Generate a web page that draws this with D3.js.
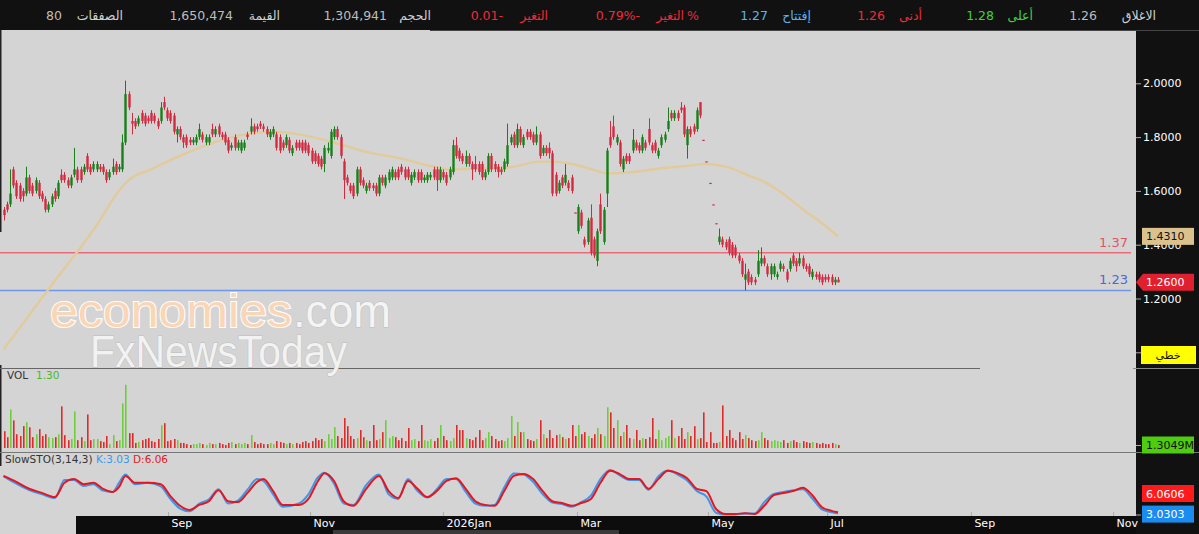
<!DOCTYPE html>
<html>
<head>
<meta charset="utf-8">
<script src="https://cdn.jsdelivr.net/npm/d3@7"></script>
<style>
  body { margin: 0; background: #111; }
  svg { display: block; }
  .axis text { fill: #fff; font-family: "DejaVu Sans", sans-serif; font-size: 11px; }
  .axis line { stroke: #aaa; }
  .axis .domain { display: none; }
</style>
</head>
<body>
<svg id="chart" width="1199" height="534"></svg>
<script>
const opens = [
  1.53,1.55,1.55,1.68,1.63,1.62,1.60,1.59,1.65,1.62, 1.60,1.63,1.59,1.57,1.53,1.55,1.60,1.58,1.66,1.66,
  1.64,1.62,1.66,1.68,1.68,1.67,1.73,1.69,1.68,1.68, 1.69,1.69,1.67,1.65,1.67,1.70,1.68,1.68,1.78,1.96,
  1.86,1.86,1.85,1.89,1.88,1.87,1.89,1.88,1.86,1.86, 1.93,1.90,1.89,1.88,1.81,1.83,1.80,1.80,1.79,1.78,
  1.78,1.80,1.81,1.78,1.78,1.83,1.81,1.84,1.81,1.81, 1.79,1.76,1.80,1.76,1.75,1.76,1.81,1.82,1.84,1.84,
  1.85,1.84,1.83,1.80,1.81,1.81,1.80,1.78,1.77,1.79, 1.74,1.78,1.78,1.78,1.78,1.77,1.75,1.74,1.73,1.72,
  1.70,1.75,1.73,1.80,1.83,1.80,1.71,1.65,1.62,1.62, 1.59,1.68,1.64,1.60,1.63,1.62,1.62,1.59,1.65,1.62,
  1.64,1.65,1.67,1.68,1.69,1.68,1.68,1.63,1.65,1.67, 1.67,1.64,1.64,1.65,1.68,1.68,1.64,1.67,1.66,1.65,
  1.67,1.77,1.75,1.73,1.70,1.73,1.70,1.70,1.70,1.70, 1.65,1.67,1.73,1.70,1.69,1.68,1.68,1.70,1.78,1.81,
  1.77,1.83,1.77,1.82,1.82,1.81,1.78,1.81,1.74,1.76, 1.76,1.74,1.66,1.60,1.65,1.63,1.63,1.65,1.52,1.45,
  1.52,1.42,1.41,1.50,1.42,1.34,1.55,1.41,1.59,1.80, 1.84,1.78,1.78,1.68,1.73,1.73,1.75,1.78,1.77,1.75,
  1.78,1.83,1.77,1.78,1.73,1.77,1.79,1.83,1.89,1.87, 1.89,1.91,1.91,1.77,1.83,1.84,1.83,1.93,1.79,1.71,
  1.63,1.55,1.48,1.41,1.42,1.41,1.42,1.40,1.39,1.36, 1.34,1.27,1.30,1.28,1.27,1.29,1.33,1.35,1.32,1.29,
  1.29,1.28,1.31,1.32,1.30,1.31,1.36,1.34,1.33,1.35, 1.32,1.32,1.28,1.29,1.29,1.28,1.28,1.28,1.28,1.26,1.27
];
const highs = [
  1.54,1.56,1.68,1.69,1.64,1.63,1.61,1.69,1.66,1.63, 1.65,1.64,1.60,1.58,1.56,1.59,1.61,1.64,1.68,1.67,
  1.65,1.66,1.76,1.69,1.69,1.70,1.74,1.70,1.71,1.71, 1.70,1.70,1.68,1.68,1.72,1.71,1.70,1.81,2.01,1.97,
  1.89,1.87,1.88,1.90,1.89,1.88,1.90,1.89,1.87,1.93, 1.95,1.91,1.90,1.89,1.84,1.84,1.81,1.81,1.80,1.80,
  1.81,1.85,1.82,1.81,1.81,1.85,1.84,1.85,1.82,1.82, 1.80,1.78,1.81,1.79,1.79,1.79,1.82,1.87,1.85,1.85,
  1.86,1.85,1.84,1.83,1.84,1.82,1.81,1.79,1.81,1.80, 1.77,1.79,1.79,1.79,1.79,1.78,1.76,1.75,1.74,1.73,
  1.77,1.78,1.83,1.84,1.84,1.81,1.72,1.66,1.63,1.63, 1.69,1.69,1.65,1.63,1.64,1.63,1.63,1.66,1.66,1.66,
  1.68,1.69,1.68,1.69,1.70,1.69,1.69,1.67,1.68,1.68, 1.68,1.66,1.67,1.67,1.69,1.69,1.69,1.68,1.67,1.69,
  1.79,1.80,1.76,1.74,1.75,1.74,1.71,1.73,1.71,1.71, 1.68,1.74,1.74,1.71,1.70,1.69,1.72,1.85,1.81,1.82,
  1.85,1.84,1.81,1.83,1.83,1.82,1.84,1.82,1.77,1.77, 1.78,1.75,1.67,1.64,1.66,1.70,1.64,1.66,1.52,1.55,
  1.53,1.43,1.50,1.55,1.43,1.46,1.59,1.54,1.76,1.86, 1.88,1.81,1.79,1.73,1.74,1.74,1.83,1.79,1.78,1.81,
  1.79,1.87,1.78,1.79,1.76,1.81,1.82,1.91,1.90,1.90, 1.90,1.93,1.92,1.84,1.84,1.85,1.91,1.93,1.79,1.71,
  1.63,1.55,1.48,1.46,1.43,1.42,1.43,1.41,1.40,1.37, 1.35,1.33,1.31,1.29,1.28,1.38,1.39,1.36,1.33,1.33,
  1.33,1.30,1.34,1.33,1.31,1.35,1.37,1.35,1.37,1.36, 1.33,1.33,1.31,1.30,1.30,1.29,1.29,1.29,1.29,1.28,1.28
];
const lows = [
  1.49,1.52,1.54,1.61,1.57,1.56,1.56,1.58,1.59,1.58, 1.59,1.57,1.56,1.52,1.52,1.54,1.56,1.57,1.63,1.63,
  1.61,1.61,1.65,1.63,1.63,1.66,1.67,1.66,1.67,1.67, 1.67,1.66,1.63,1.64,1.66,1.66,1.67,1.67,1.77,1.90,
  1.81,1.83,1.84,1.85,1.84,1.85,1.85,1.85,1.83,1.85, 1.90,1.86,1.85,1.81,1.78,1.79,1.76,1.76,1.77,1.77,
  1.77,1.79,1.78,1.77,1.77,1.80,1.80,1.80,1.79,1.77, 1.74,1.75,1.75,1.75,1.74,1.75,1.79,1.81,1.81,1.82,
  1.83,1.82,1.80,1.79,1.80,1.75,1.74,1.75,1.76,1.74, 1.73,1.75,1.75,1.74,1.74,1.73,1.70,1.70,1.69,1.68,
  1.67,1.74,1.72,1.79,1.79,1.72,1.57,1.62,1.59,1.57, 1.58,1.62,1.61,1.59,1.60,1.60,1.58,1.58,1.62,1.61,
  1.63,1.64,1.64,1.64,1.66,1.64,1.64,1.62,1.64,1.63, 1.63,1.63,1.63,1.64,1.64,1.60,1.63,1.64,1.62,1.64,
  1.66,1.72,1.71,1.70,1.69,1.69,1.64,1.67,1.66,1.64, 1.64,1.66,1.67,1.67,1.65,1.66,1.67,1.69,1.77,1.76,
  1.76,1.77,1.76,1.79,1.79,1.77,1.77,1.72,1.73,1.73, 1.72,1.58,1.58,1.59,1.61,1.62,1.60,1.59,1.52,1.44,
  1.46,1.39,1.40,1.36,1.35,1.32,1.44,1.40,1.54,1.76, 1.79,1.77,1.69,1.67,1.70,1.70,1.74,1.75,1.74,1.74,
  1.75,1.77,1.74,1.74,1.72,1.76,1.78,1.82,1.86,1.86, 1.86,1.89,1.80,1.72,1.80,1.81,1.82,1.87,1.79,1.71,
  1.63,1.55,1.48,1.40,1.39,1.38,1.36,1.35,1.35,1.33, 1.28,1.23,1.25,1.25,1.25,1.28,1.32,1.32,1.28,1.27,
  1.28,1.27,1.30,1.30,1.26,1.30,1.32,1.30,1.32,1.31, 1.30,1.28,1.27,1.27,1.26,1.25,1.26,1.26,1.25,1.25,1.26
];
const closes = [
  1.51,1.53,1.59,1.62,1.58,1.57,1.58,1.65,1.60,1.59, 1.64,1.58,1.57,1.53,1.55,1.58,1.57,1.63,1.64,1.64,
  1.62,1.65,1.68,1.64,1.64,1.69,1.68,1.67,1.70,1.70, 1.68,1.67,1.64,1.67,1.69,1.67,1.69,1.78,1.96,1.91,
  1.85,1.84,1.87,1.86,1.85,1.86,1.86,1.86,1.84,1.91, 1.91,1.87,1.86,1.82,1.83,1.80,1.78,1.77,1.78,1.79,
  1.80,1.83,1.79,1.80,1.80,1.81,1.83,1.81,1.80,1.78, 1.75,1.77,1.76,1.78,1.78,1.78,1.80,1.84,1.82,1.83,
  1.84,1.83,1.81,1.82,1.83,1.76,1.75,1.76,1.80,1.75, 1.76,1.76,1.76,1.75,1.75,1.74,1.71,1.71,1.70,1.69,
  1.76,1.76,1.82,1.83,1.80,1.73,1.64,1.63,1.60,1.58, 1.68,1.63,1.62,1.62,1.61,1.61,1.59,1.65,1.63,1.65,
  1.67,1.68,1.65,1.65,1.67,1.65,1.65,1.66,1.67,1.64, 1.64,1.65,1.66,1.66,1.65,1.64,1.68,1.65,1.63,1.68,
  1.77,1.73,1.72,1.71,1.73,1.70,1.68,1.68,1.67,1.65, 1.67,1.73,1.68,1.68,1.67,1.67,1.71,1.77,1.80,1.77,
  1.83,1.78,1.80,1.80,1.80,1.78,1.81,1.73,1.76,1.74, 1.74,1.59,1.59,1.63,1.62,1.66,1.61,1.60,1.52,1.54,
  1.47,1.40,1.49,1.37,1.36,1.45,1.45,1.53,1.75,1.77, 1.80,1.80,1.70,1.72,1.71,1.71,1.79,1.76,1.75,1.80,
  1.76,1.78,1.75,1.75,1.75,1.80,1.81,1.86,1.87,1.89, 1.87,1.90,1.81,1.83,1.81,1.82,1.90,1.88,1.79,1.71,
  1.63,1.55,1.48,1.43,1.40,1.39,1.37,1.36,1.36,1.34, 1.29,1.29,1.26,1.26,1.26,1.34,1.35,1.33,1.29,1.32,
  1.32,1.29,1.33,1.31,1.27,1.34,1.33,1.32,1.35,1.32, 1.31,1.29,1.30,1.28,1.27,1.26,1.27,1.27,1.26,1.27,1.26
];
// volume in millions of shares
const volumes = [
  7.3,4.7,16.8,12.0,6.0,5.2,9.5,11.2,9.0,4.7, 6.0,8.2,5.2,6.0,4.7,4.3,4.7,6.0,18.1,5.6,
  3.4,3.9,15.9,3.4,4.7,3.0,14.6,3.4,3.9,3.9, 3.0,2.6,5.2,1.7,5.6,3.0,3.4,19.4,27.5,6.5,
  6.5,2.2,2.6,3.4,3.9,4.3,3.0,2.6,3.9,9.9, 10.8,3.0,3.4,3.9,3.4,2.2,2.2,1.7,1.3,1.7,
  1.7,2.2,1.7,1.3,2.2,1.7,1.7,2.2,1.7,1.3, 2.2,2.6,1.7,2.2,1.7,2.2,1.7,5.6,2.6,1.7,
  2.2,1.7,1.7,2.2,1.7,3.0,2.6,2.2,1.7,2.2, 1.7,2.2,1.7,2.6,3.0,2.2,3.0,4.3,3.4,3.9,
  3.0,6.0,3.9,9.1,5.2,4.3,13.0,9.5,5.2,3.9, 4.3,7.8,4.7,3.4,3.0,10.0,3.4,3.9,6.9,12.1,
  4.3,5.2,4.7,3.4,4.3,3.0,8.7,3.4,3.9,3.0, 10.0,3.4,3.0,3.9,3.0,4.3,10.0,5.2,3.4,3.0,
  4.3,10.0,7.8,7.8,4.3,3.9,3.4,4.7,7.8,3.4, 4.3,6.9,5.2,3.9,3.0,3.4,3.0,4.3,13.9,5.2,
  11.3,6.9,6.9,3.9,3.4,3.0,3.9,12.1,6.0,4.3, 7.8,4.3,5.6,6.0,4.7,3.9,4.3,10.0,5.2,10.0,
  6.0,6.9,5.2,4.3,6.0,8.7,6.0,5.2,17.7,15.5, 8.7,12.1,5.2,6.9,10.0,4.3,3.9,7.8,3.4,4.3,
  3.9,4.7,13.0,3.9,7.8,3.4,4.3,5.2,12.1,4.3, 5.2,8.7,3.9,6.9,5.2,9.5,3.9,4.3,15.5,2.6,
  6.9,2.2,2.2,2.6,18.5,5.2,7.8,4.3,3.4,6.9, 3.9,5.6,4.3,3.4,3.0,3.4,6.9,4.3,3.4,3.0,
  3.4,3.0,2.6,3.4,2.2,3.0,3.4,2.6,2.2,3.0, 2.6,2.2,2.6,2.2,1.7,2.2,1.7,1.7,2.2,1.7,1.3049
];

// moving average read at bar positions
const maIdx = [0,15,30,35,39,46,53,61,68,78,85,92,103,113,124,134,139,149,158,167,171,177,184,188,196,205,213,219,225,233,236,242,250,255,260];
const maVal = [1.01,1.25,1.49,1.585,1.64,1.68,1.72,1.76,1.79,1.815,1.82,1.81,1.78,1.745,1.72,1.69,1.68,1.684,1.688,1.709,1.709,1.70,1.678,1.665,1.67,1.684,1.693,1.70,1.69,1.653,1.64,1.597,1.523,1.48,1.431];

// slow stochastic (3,14,3) read at bar positions
const stoIdx = [0,4,8,12,16,19,22,25,28,31,34,36,38,41,45,49,52,55,58,61,64,67,70,73,76,79,81,84,87,92,95,98,100,103,106,109,113,117,120,123,126,129,132,135,138,141,144,147,150,153,156,159,162,165,168,171,174,177,180,183,186,189,192,195,198,201,204,207,210,213,216,219,222,225,228,231,234,237,240,243,246,249,252,255,258,260];
const stoD = [85,72,57,48,39,70,78,67,70,57,50,61,85,70,70,67,41,20,11,22,30,54,30,28,48,72,78,52,22,22,35,74,91,74,30,20,57,85,52,37,74,57,39,52,74,80,57,30,22,20,52,85,89,78,52,30,26,20,26,35,70,96,89,78,78,57,78,96,91,80,57,52,13,2,2,4,2,20,43,48,52,59,43,17,9,6.06];
const stoK = [84,68,54,45,37,76,76,63,67,53,50,70,88,67,70,62,35,14,8,25,34,56,25,31,55,78,74,45,18,25,45,82,92,68,25,22,65,88,45,35,78,52,38,56,78,78,50,25,20,22,60,90,88,72,45,27,24,18,28,42,78,98,86,76,76,55,84,97,88,75,52,40,5,1,1,3,3,28,46,50,54,56,36,12,6,3.03];

const priceTicks = [1.0, 1.2, 1.4, 1.6, 1.8, 2.0];
const monthLabels = ['Sep', 'Nov', '2026Jan', 'Mar', 'May', 'Jul', 'Sep', 'Nov'];
const monthIdx = [51.25, 95.5, 136.9, 178.7, 219.5, 256.6, 301.4, 345.7];

const supportLevels = [
  { value: 1.37, color: '#ea6b78', text: '#e05566' },
  { value: 1.23, color: '#6f98e8', text: '#4a68dc' },
];

const header = [
  { label: 'الاغلاق', value: '1.26', lx: 1156, vx: 1097, lc: '#cfcfcf', vc: '#bdbdbd' },
  { label: 'أعلى', value: '1.28', lx: 1033, vx: 994, lc: '#3fd13f', vc: '#3fd13f' },
  { label: 'أدنى', value: '1.26', lx: 922, vx: 885, lc: '#ee2a3a', vc: '#ee2a3a' },
  { label: 'إفتتاح', value: '1.27', lx: 811, vx: 768, lc: '#5ab4f0', vc: '#5ab4f0' },
  { label: 'التغير', suffix: '%', value: '0.79%-', lx: 684, vx: 640, lc: '#ee2a3a', vc: '#ee2a3a' },
  { label: 'التغير', value: '0.01-', lx: 548, vx: 503, lc: '#ee2a3a', vc: '#ee2a3a' },
  { label: 'الحجم', value: '1,304,941', lx: 431, vx: 387, lc: '#cfcfcf', vc: '#bdbdbd' },
  { label: 'القيمة', value: '1,650,474', lx: 280, vx: 233, lc: '#cfcfcf', vc: '#bdbdbd' },
  { label: 'الصفقات', value: '80', lx: 123, vx: 62, lc: '#cfcfcf', vc: '#bdbdbd' },
];

const n = closes.length;
const svg = d3.select('#chart');
const font = '"DejaVu Sans", sans-serif';

const x = d3.scaleLinear().domain([0, 353]).range([3.5, 1136.5]);
const yPrice = d3.scaleLinear().domain([1.0, 2.0]).range([352.3, 83.3]);
const yVol = d3.scaleLinear().domain([0, 30]).range([448, 379]);
const yStoch = d3.scaleLinear().domain([0, 100]).range([515, 469]);

// backgrounds
svg.append('rect').attr('width', 1199).attr('height', 534).attr('fill', '#111');
svg.append('rect').attr('x', 0).attr('y', 30).attr('width', 1136).attr('height', 487).attr('fill', '#d4d4d4');
svg.append('rect').attr('x', 0).attr('y', 517).attr('width', 76).attr('height', 17).attr('fill', '#d4d4d4');
svg.append('rect').attr('x', 76).attr('y', 516).attr('width', 1060).attr('height', 18).attr('fill', '#0d0d0d');
svg.append('rect').attr('x', 333).attr('y', 530).attr('width', 286).attr('height', 4).attr('fill', '#3a3a3a');
svg.append('line').attr('x1', 430).attr('x2', 1199).attr('y1', 30.5).attr('y2', 30.5).attr('stroke', '#444');
svg.append('line').attr('x1', 0.5).attr('x2', 0.5).attr('y1', 30).attr('y2', 232).attr('stroke', '#222').attr('stroke-width', 2);
svg.append('line').attr('x1', 0.5).attr('x2', 0.5).attr('y1', 365).attr('y2', 466).attr('stroke', '#222').attr('stroke-width', 2);

// panel separators
svg.append('line').attr('x1', 0).attr('x2', 980).attr('y1', 368.5).attr('y2', 368.5).attr('stroke', '#666');
svg.append('line').attr('x1', 1133).attr('x2', 1199).attr('y1', 368.5).attr('y2', 368.5).attr('stroke', '#888');
svg.append('line').attr('x1', 0).attr('x2', 1199).attr('y1', 452.5).attr('y2', 452.5).attr('stroke', '#777');

// header bar
header.forEach((h) => {
  svg.append('text').attr('x', h.lx).attr('y', 20).attr('text-anchor', 'end')
    .attr('fill', h.lc).attr('font-family', font).attr('font-size', 12.5).text(h.label);
  if (h.suffix) {
    svg.append('text').attr('x', h.lx + 3).attr('y', 20)
      .attr('fill', h.lc).attr('font-family', font).attr('font-size', 12.5).text(h.suffix);
  }
  svg.append('text').attr('x', h.vx).attr('y', 20).attr('text-anchor', 'end')
    .attr('direction', 'ltr').attr('unicode-bidi', 'bidi-override')
    .attr('fill', h.vc).attr('font-family', font).attr('font-size', 12.5).text(h.value);
});

// watermark
const wm = svg.append('g').attr('font-family', '"Liberation Sans", Arial, sans-serif');
wm.append('text').attr('x', 50).attr('y', 327).attr('font-size', 46)
  .attr('textLength', 242).attr('lengthAdjust', 'spacingAndGlyphs')
  .attr('fill', '#fbd6b6').attr('stroke', '#fff').attr('stroke-width', 2).attr('paint-order', 'stroke')
  .text('economies');
wm.append('text').attr('x', 293).attr('y', 327).attr('font-size', 46)
  .attr('textLength', 98).attr('lengthAdjust', 'spacingAndGlyphs')
  .attr('fill', '#f4f4f4').attr('stroke', '#bdbdbd').attr('stroke-width', 1).attr('paint-order', 'stroke')
  .text('.com');
wm.append('text').attr('x', 90).attr('y', 367).attr('font-size', 44)
  .attr('textLength', 257).attr('lengthAdjust', 'spacingAndGlyphs')
  .attr('fill', '#f2f2f2').attr('stroke', '#bdbdbd').attr('stroke-width', 1).attr('paint-order', 'stroke')
  .text('FxNewsToday');

// main price panel
const main = svg.append('g');
main.append('clipPath').attr('id', 'mainClip')
  .append('rect').attr('x', 0).attr('y', 31).attr('width', 1136).attr('height', 337);

supportLevels.forEach((s) => {
  main.append('line').attr('x1', 0).attr('x2', 1131)
    .attr('y1', yPrice(s.value)).attr('y2', yPrice(s.value))
    .attr('stroke', s.color).attr('stroke-width', 1.6);
  main.append('text').attr('x', 1128).attr('y', yPrice(s.value) - 6).attr('text-anchor', 'end')
    .attr('fill', s.text).attr('font-family', font).attr('font-size', 13).text(s.value.toFixed(2));
});

const maLine = d3.line()
  .x((d, i) => x(maIdx[i]))
  .y((d) => yPrice(d))
  .curve(d3.curveMonotoneX);
main.append('path').datum(maVal)
  .attr('clip-path', 'url(#mainClip)')
  .attr('d', maLine).attr('fill', 'none')
  .attr('stroke', '#e2cb9b').attr('stroke-width', 2.4).attr('stroke-linejoin', 'round');

const idx = d3.range(n);
const up = (i) => closes[i] > opens[i];
const candle = main.append('g').selectAll('g').data(idx).enter().append('g');
candle.append('line')
  .attr('x1', (i) => Math.round(x(i)) + 0.5).attr('x2', (i) => Math.round(x(i)) + 0.5)
  .attr('y1', (i) => yPrice(highs[i])).attr('y2', (i) => yPrice(lows[i]))
  .attr('stroke', (i) => up(i) ? '#17801a' : '#d42a40').attr('stroke-width', 1);
candle.append('rect')
  .attr('x', (i) => Math.round(x(i)) - 0.7)
  .attr('width', 2.4)
  .attr('y', (i) => yPrice(Math.max(opens[i], closes[i])))
  .attr('height', (i) => Math.max(1.2, yPrice(Math.min(opens[i], closes[i])) - yPrice(Math.max(opens[i], closes[i]))))
  .attr('fill', (i) => up(i) ? '#17801a' : '#d42a40');

// volume panel
svg.append('g').selectAll('rect').data(idx).enter().append('rect')
  .attr('x', (i) => Math.round(x(i)))
  .attr('width', 1.6)
  .attr('y', (i) => yVol(volumes[i]))
  .attr('height', (i) => yVol(0) - yVol(volumes[i]))
  .attr('fill', (i) => up(i) ? '#6ccf3a' : '#e02a2a');

svg.append('text').attr('x', 7).attr('y', 379).attr('fill', '#333')
  .attr('font-family', font).attr('font-size', 10.5).text('VOL');
svg.append('text').attr('x', 36).attr('y', 379).attr('fill', '#44bb22')
  .attr('font-family', font).attr('font-size', 10.5).text('1.30');

// stochastic panel
const stoLine = (vals) => d3.line()
  .x((d, i) => x(stoIdx[i]))
  .y((d) => yStoch(d))
  .curve(d3.curveMonotoneX)(vals);
svg.append('path').attr('d', stoLine(stoK)).attr('fill', 'none')
  .attr('stroke', '#3a98ec').attr('stroke-width', 2);
svg.append('path').attr('d', stoLine(stoD)).attr('fill', 'none')
  .attr('stroke', '#e8141e').attr('stroke-width', 2);

const stoLabel = svg.append('text').attr('x', 5).attr('y', 463)
  .attr('font-family', font).attr('font-size', 10.5);
stoLabel.append('tspan').attr('fill', '#333').text('SlowSTO(3,14,3)  ');
stoLabel.append('tspan').attr('fill', '#3a98ec').text('K:3.03  ');
stoLabel.append('tspan').attr('fill', '#e02020').text('D:6.06');

// right price axis
svg.append('g').attr('class', 'axis').attr('transform', 'translate(1136,0)')
  .call(d3.axisRight(yPrice).tickValues(priceTicks).tickFormat(d3.format('.4f')).tickSize(5).tickPadding(2));

svg.append('line').attr('x1', 1136).attr('x2', 1141).attr('y1', 445.5).attr('y2', 445.5).attr('stroke', '#aaa');
svg.append('line').attr('x1', 1136).attr('x2', 1141).attr('y1', yStoch(0)).attr('y2', yStoch(0)).attr('stroke', '#aaa');

function tag(yc, txt, bg, fg, arrow) {
  const g = svg.append('g');
  if (arrow) {
    g.append('path')
      .attr('d', `M1136,${yc} L1143,${yc - 8.5} L1194,${yc - 8.5} L1194,${yc + 8.5} L1143,${yc + 8.5} Z`)
      .attr('fill', bg);
  } else {
    g.append('rect').attr('x', 1142).attr('y', yc - 8.5).attr('width', 52).attr('height', 17).attr('fill', bg);
  }
  g.append('text').attr('x', 1146).attr('y', yc + 4).attr('fill', fg)
    .attr('font-family', font).attr('font-size', 11).text(txt);
}
tag(yPrice(1.431), '1.4310', '#dbc28d', '#111', false);
tag(yPrice(closes[n - 1]), closes[n - 1].toFixed(4), '#e0202e', '#fff', true);
tag(yVol(volumes[n - 1]), volumes[n - 1].toFixed(4) + 'M', '#4fcb10', '#111', false);
tag(493.5, '6.0606', '#ff1b1b', '#fff', false);
tag(yStoch(stoK[stoK.length - 1]) + 0.5, '3.0303', '#1a8cf0', '#fff', false);

svg.append('rect').attr('x', 1141).attr('y', 346).attr('width', 55).attr('height', 18).attr('fill', '#ffff00');
svg.append('text').attr('x', 1168).attr('y', 359).attr('text-anchor', 'middle').attr('fill', '#111')
  .attr('font-family', font).attr('font-size', 11).text('خطي');

// bottom date axis
const xAxis = svg.append('g').attr('class', 'axis').attr('transform', 'translate(0,516)')
  .call(d3.axisBottom(x).tickValues(monthIdx).tickFormat((d, i) => monthLabels[i]).tickSize(-4).tickPadding(3));
xAxis.selectAll('text').attr('text-anchor', 'start').attr('x', 3).attr('font-size', 12);
xAxis.selectAll('line').attr('stroke', '#999');
</script>
</body>
</html>
